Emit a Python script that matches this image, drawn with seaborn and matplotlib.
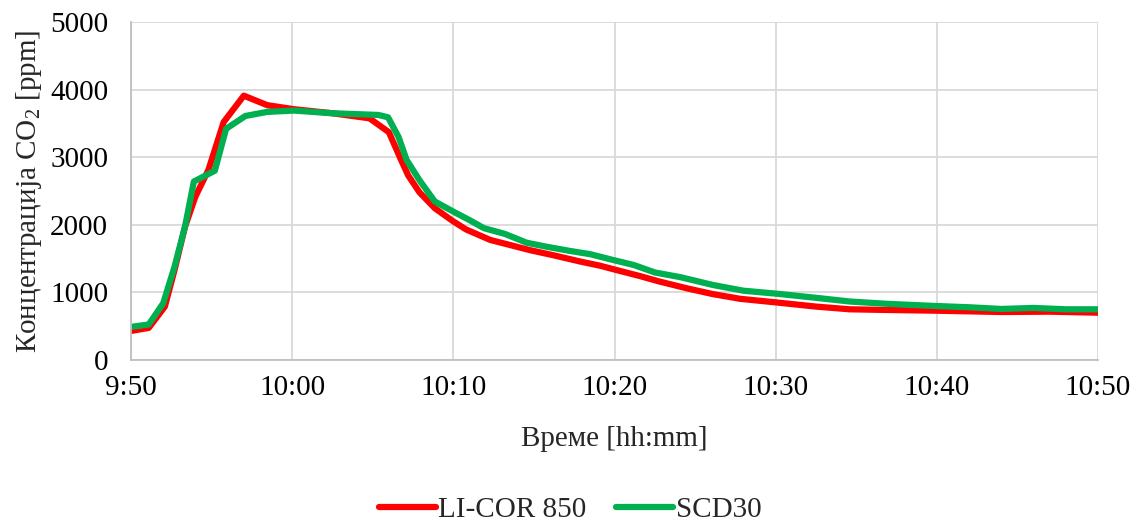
import numpy as np
import pandas as pd
import matplotlib
matplotlib.use("Agg")
import matplotlib.pyplot as plt
import seaborn as sns

# Minutes after 9:50
t_licor = [0, 1.1, 2.1, 2.7, 3.35, 4.0, 4.8, 5.75, 7.0, 8.45, 10.1, 12.5, 14.8, 16.0,
           16.7, 17.2, 17.9, 18.85, 20.0, 20.8, 22.3, 23.7, 24.75, 26.2, 27.9, 29.1,
           30.3, 31.6, 32.8, 34.5, 36.1, 37.8, 40.1, 42.5, 44.6, 47.0, 49.8, 52.0,
           54.0, 57.0, 60.0]
licor = [430, 475, 790, 1330, 1970, 2420, 2810, 3520, 3910, 3770, 3710, 3650, 3575, 3370,
         2990, 2730, 2480, 2245, 2050, 1930, 1775, 1690, 1625, 1550, 1455, 1395,
         1320, 1240, 1160, 1060, 975, 905, 850, 790, 750, 740, 730, 720,
         710, 715, 700]

t_scd = [0, 1.1, 2.0, 2.7, 3.35, 3.9, 5.2, 5.9, 7.1, 8.45, 10.1, 12.5, 15.35, 15.95,
         16.6, 17.1, 17.9, 18.85, 20.0, 21.0, 21.9, 23.2, 24.55, 25.8, 27.2, 28.5,
         29.9, 31.2, 32.5, 34.1, 36.1, 38.0, 40.1, 42.5, 44.6, 47.0, 49.8, 52.0,
         54.0, 56.0, 58.0, 60.0]
scd30 = [490, 525, 840, 1380, 1970, 2640, 2800, 3420, 3610, 3670, 3690, 3650, 3625, 3590,
         3300, 2960, 2660, 2345, 2195, 2070, 1950, 1865, 1735, 1675, 1615, 1565,
         1480, 1405, 1295, 1225, 1110, 1025, 980, 920, 865, 830, 800, 780,
         755, 770, 750, 750]

series_names = ["LI-COR 850", "SCD30"]
colors = ["#FF0000", "#00B050"]
x_ticks = [0, 10, 20, 30, 40, 50, 60]
x_labels = ["9:50", "10:00", "10:10", "10:20", "10:30", "10:40", "10:50"]
y_ticks = [0, 1000, 2000, 3000, 4000, 5000]

df = pd.concat([
    pd.DataFrame({"t": t_licor, "ppm": licor, "series": series_names[0]}),
    pd.DataFrame({"t": t_scd, "ppm": scd30, "series": series_names[1]}),
])

sns.set_style("white")
plt.rcParams["font.family"] = ["Liberation Serif", "DejaVu Serif"]
plt.rcParams["mathtext.fontset"] = "custom"
plt.rcParams["mathtext.rm"] = "Liberation Serif"

FS = 21

fig = plt.figure(figsize=(11.36, 5.21), dpi=100)
ax = fig.add_axes([131/1136, 1-360/521, (1098-131)/1136, (360-22)/521])

sns.lineplot(data=df, x="t", y="ppm", hue="series", palette=colors, ax=ax,
             linewidth=4.5, legend=False, sort=False, estimator=None)
for ln in ax.lines:
    ln.set_solid_joinstyle("round")
    ln.set_solid_capstyle("round")

ax.set_xlim(0, 60)
ax.set_ylim(0, 5000)
ax.set_xticks(x_ticks)
ax.set_xticklabels(x_labels)
ax.set_yticks(y_ticks)
ax.grid(True, color="#D9D9D9", linewidth=1.3)
ax.set_axisbelow(True)
for s in ["top", "right"]:
    ax.spines[s].set_visible(False)
for s in ["left", "bottom"]:
    ax.spines[s].set_color("#BFBFBF")
    ax.spines[s].set_linewidth(1.3)
ax.tick_params(axis="both", length=0, labelsize=FS, colors="black")
ax.tick_params(axis="y", pad=16.5)
ax.tick_params(axis="x", pad=11)

ax.set_xlabel("Време [hh:mm]", fontsize=FS, labelpad=18)
ax.set_ylabel("Концентрација CO$_\\mathregular{2}$ [ppm]", fontsize=FS, labelpad=4)

handles = ax.lines[:2]
fig.legend(handles, series_names, loc="center", bbox_to_anchor=(570/1136, 1-510/521),
           ncol=2, frameon=False, fontsize=FS, handlelength=1.95, handletextpad=0.1,
           columnspacing=1.0)

fig.savefig("out.png", dpi=100)
